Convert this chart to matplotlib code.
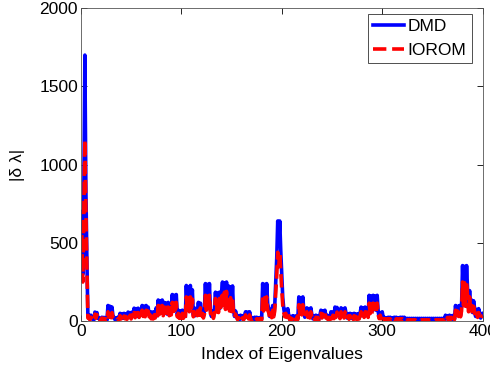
import numpy as np
import matplotlib
matplotlib.use('Agg')
import matplotlib.pyplot as plt

# |delta lambda| per eigenvalue index (20 values per row)
dmd = [
    700, 300, 850, 1700, 850, 400, 30, 38, 12, 38, 15, 20, 8, 58, 25, 55, 20, 20, 6, 18,
    25, 10, 24, 8, 20, 6, 100, 40, 95, 35, 90, 30, 25, 10, 22, 8, 25, 20, 50, 20,
    48, 18, 50, 22, 45, 20, 58, 25, 55, 20, 58, 30, 83, 35, 80, 30, 83, 35, 75, 40,
    100, 45, 95, 40, 100, 45, 90, 40, 60, 25, 58, 22, 60, 30, 85, 35, 135, 60, 130, 55,
    135, 50, 120, 50, 115, 45, 120, 50, 110, 60, 170, 75, 165, 70, 170, 40, 70, 25, 65, 30,
    70, 28, 65, 30, 228, 90, 220, 80, 228, 95, 200, 40, 85, 35, 80, 50, 120, 55, 115, 50,
    70, 30, 65, 240, 100, 235, 95, 240, 70, 30, 65, 28, 70, 185, 80, 180, 75, 185, 85, 180,
    250, 110, 245, 100, 250, 120, 225, 95, 220, 90, 225, 70, 30, 65, 38, 15, 35, 12, 38, 15,
    35, 12, 38, 60, 25, 58, 22, 60, 25, 10, 22, 8, 25, 10, 25, 8, 22, 10, 25, 12,
    240, 100, 235, 95, 240, 110, 80, 30, 75, 35, 100, 40, 95, 250, 400, 640, 500, 640, 450, 300,
    150, 80, 40, 75, 35, 80, 35, 12, 30, 10, 35, 12, 32, 10, 35, 15, 155, 65, 150, 60,
    155, 60, 25, 55, 85, 35, 80, 30, 85, 38, 15, 35, 12, 38, 15, 35, 12, 38, 70, 30,
    65, 28, 70, 30, 38, 15, 35, 15, 60, 25, 58, 25, 90, 35, 88, 40, 60, 25, 85, 35,
    80, 30, 85, 50, 20, 48, 18, 50, 20, 45, 18, 50, 20, 45, 18, 48, 20, 50, 90, 35,
    85, 35, 90, 40, 85, 35, 165, 70, 160, 65, 165, 75, 160, 70, 165, 60, 25, 55, 22, 60,
    25, 25, 10, 22, 8, 25, 10, 25, 8, 22, 10, 25, 8, 25, 10, 22, 8, 25, 10, 25,
    8, 25, 18, 8, 18, 6, 18, 8, 18, 6, 18, 8, 18, 6, 18, 8, 18, 6, 18, 8,
    18, 6, 18, 8, 18, 6, 18, 8, 18, 6, 18, 8, 18, 6, 18, 8, 18, 6, 18, 8,
    18, 8, 38, 15, 35, 12, 38, 15, 35, 12, 38, 15, 100, 40, 95, 45, 100, 40, 95, 355,
    150, 350, 140, 355, 200, 80, 195, 90, 135, 55, 130, 80, 30, 75, 35, 80, 50, 20, 48, 50,
]

iorom = [
    550, 250, 700, 1160, 700, 350, 20, 25, 8, 25, 10, 15, 5, 45, 18, 42, 12, 15, 4, 12,
    20, 6, 18, 5, 15, 4, 60, 25, 58, 22, 55, 20, 15, 6, 14, 5, 15, 12, 35, 14,
    35, 12, 33, 15, 30, 12, 40, 18, 38, 14, 40, 20, 55, 22, 52, 20, 55, 24, 50, 28,
    70, 30, 68, 28, 70, 32, 65, 28, 40, 15, 38, 14, 40, 20, 55, 24, 100, 42, 95, 40,
    100, 35, 90, 38, 88, 32, 90, 35, 85, 40, 120, 50, 115, 48, 120, 28, 50, 18, 45, 20,
    50, 18, 45, 20, 155, 65, 150, 60, 155, 62, 140, 28, 60, 24, 55, 35, 90, 38, 85, 35,
    50, 20, 45, 165, 70, 160, 68, 165, 50, 20, 45, 18, 50, 145, 60, 140, 55, 145, 62, 140,
    190, 80, 185, 75, 190, 85, 155, 65, 150, 62, 155, 50, 20, 45, 25, 10, 22, 8, 25, 10,
    22, 8, 25, 40, 15, 38, 14, 40, 15, 6, 14, 5, 15, 6, 15, 5, 14, 6, 15, 8,
    155, 65, 150, 62, 155, 70, 55, 20, 50, 22, 70, 28, 65, 180, 290, 440, 350, 440, 320, 200,
    100, 55, 28, 50, 24, 55, 25, 8, 20, 6, 25, 8, 22, 6, 25, 10, 105, 45, 100, 40,
    105, 42, 18, 40, 60, 24, 55, 20, 60, 25, 10, 24, 8, 25, 10, 24, 8, 25, 50, 20,
    45, 18, 50, 20, 25, 10, 24, 10, 40, 16, 38, 16, 60, 24, 58, 26, 40, 16, 60, 24,
    55, 20, 60, 35, 14, 33, 12, 35, 14, 30, 12, 35, 14, 30, 12, 33, 14, 35, 60, 24,
    58, 24, 60, 28, 58, 24, 115, 48, 110, 45, 115, 50, 110, 48, 115, 40, 16, 38, 15, 40,
    16, 15, 6, 14, 5, 15, 6, 15, 5, 14, 6, 15, 5, 15, 6, 14, 5, 15, 6, 15,
    5, 15, 8, 3, 8, 2, 8, 3, 8, 2, 8, 3, 8, 2, 8, 3, 8, 2, 8, 3,
    8, 2, 8, 3, 8, 2, 8, 3, 8, 2, 8, 3, 8, 2, 8, 3, 8, 2, 8, 3,
    8, 3, 25, 10, 24, 8, 25, 10, 24, 8, 25, 10, 70, 28, 65, 30, 70, 28, 65, 250,
    100, 245, 95, 250, 160, 60, 155, 65, 100, 40, 95, 55, 20, 50, 24, 55, 35, 14, 33, 35,
]

idx = np.arange(1, len(dmd) + 1)

plt.rcParams['font.family'] = ['Liberation Sans', 'DejaVu Sans']
fs = 12.5

fig = plt.figure(figsize=(4.9, 3.7), dpi=100)
ax = fig.add_axes([0.165, 0.132, 0.82, 0.846])

ax.plot(idx, dmd, color='#0000ff', lw=2.6, label='DMD')
ax.plot(idx, iorom, color='#ff0000', lw=2.6, ls='--', label='IOROM')

ax.set_xlim(0, 400)
ax.set_ylim(0, 2000)
ax.set_xticks([0, 100, 200, 300, 400])
ax.set_yticks([0, 500, 1000, 1500, 2000])
ax.tick_params(direction='in', top=True, right=True, labelsize=fs, length=4, width=0.6, pad=2)
for s in ax.spines.values():
    s.set_linewidth(0.6)
    s.set_color('#555555')

ax.set_xlabel('Index of Eigenvalues', fontsize=fs, labelpad=6)
ax.set_ylabel('|δ λ|', fontsize=fs, labelpad=10)

leg = ax.legend(loc='upper right', bbox_to_anchor=(0.973, 0.982), borderaxespad=0,
                fontsize=fs, frameon=True, fancybox=False, handlelength=1.75,
                handletextpad=0.25, borderpad=0.3, labelspacing=0.5)
leg.get_frame().set_edgecolor('black')
leg.get_frame().set_linewidth(0.6)

fig.savefig('out.png', dpi=100)
